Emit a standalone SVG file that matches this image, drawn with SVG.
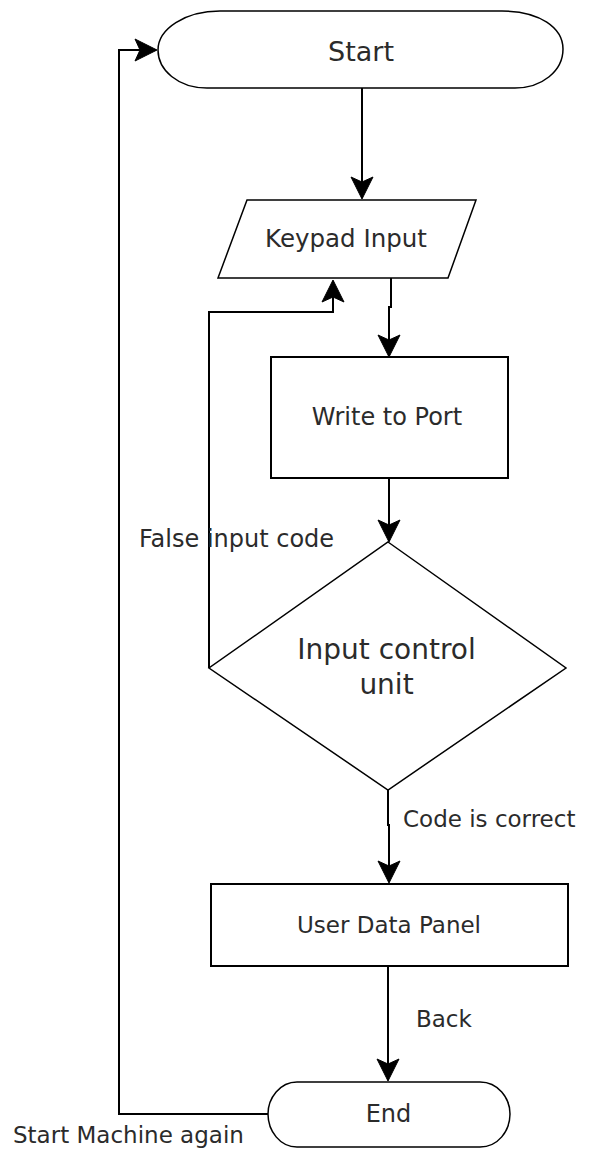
<svg xmlns="http://www.w3.org/2000/svg" width="595" height="1153" viewBox="0 0 595 1153">
  <style>
    .shape { fill: #ffffff; stroke: #000000; stroke-width: 1.5; }
    .box { stroke-width: 2; }
    .label { font-family: "DejaVu Sans", "Noto Sans", sans-serif; fill: #2b2b2b; }
    .mid { text-anchor: middle; }
    .link { fill: none; stroke: #000000; stroke-width: 2; marker-end: url(#arrow); }
  </style>
  <defs>
    <!-- notched dart arrowhead, tip at the path end -->
    <marker id="arrow" markerUnits="userSpaceOnUse" viewBox="0 0 22 24" markerWidth="22" markerHeight="24" refX="21" refY="12" orient="auto" overflow="visible">
      <path d="M0,1 L22,12 L0,23 L5,12 Z" fill="#000000" stroke="#000000" stroke-width="1" stroke-linejoin="miter"/>
    </marker>
  </defs>

  <rect width="595" height="1153" fill="#ffffff"/>

  <g id="connectors">
    <path class="link" d="M362,88 V198"/>
    <path class="link" d="M391,278 V307 H389 V356"/>
    <path class="link" d="M389,478 V541"/>
    <path class="link" d="M388,790 V825 H389 V882"/>
    <path class="link" d="M388,966 V1080"/>
    <path class="link" d="M209,668 V312 H333 V281"/>
    <path class="link" d="M268,1114 H119 V50 H156"/>
  </g>

  <g id="start">
    <path class="shape" d="M220,11 L502,11 C540,11 563,28 563,49 C563,71 542,88 515,88 L207,88 C178,88 158,70 158,50 C158,29 185,11 220,11 Z"/>
    <text class="label mid" x="361" y="61" font-size="27">Start</text>
  </g>

  <g id="keypad-input">
    <polygon class="shape" points="247,200 476,200 448,278 218,278"/>
    <text class="label mid" x="346" y="247" font-size="24.5">Keypad Input</text>
  </g>

  <g id="write-to-port">
    <rect class="shape box" x="271" y="357" width="237" height="121"/>
    <text class="label mid" x="387" y="425" font-size="24">Write to Port</text>
  </g>

  <g id="input-control-unit">
    <polygon class="shape" points="388,542 566,668 388,790 209,668"/>
    <text class="label mid" x="386.5" y="659" font-size="28">Input control</text>
    <text class="label mid" x="386.5" y="694" font-size="28">unit</text>
  </g>

  <g id="user-data-panel">
    <rect class="shape box" x="211" y="884" width="357" height="82"/>
    <text class="label mid" x="389" y="933" font-size="23">User Data Panel</text>
  </g>

  <g id="end">
    <path class="shape" d="M297,1082 L480,1082 C498,1082 510,1098 510,1114 C510,1131 498,1147 480,1147 L297,1147 C280,1147 268,1131 268,1114 C268,1098 280,1082 297,1082 Z"/>
    <text class="label mid" x="388.5" y="1122" font-size="24">End</text>
  </g>

  <g id="edge-labels">
    <text class="label" x="139" y="547" font-size="24">False input code</text>
    <text class="label" x="403" y="827" font-size="23">Code is correct</text>
    <text class="label" x="416" y="1027" font-size="23">Back</text>
    <text class="label" x="13" y="1143" font-size="23">Start Machine again</text>
  </g>
</svg>
